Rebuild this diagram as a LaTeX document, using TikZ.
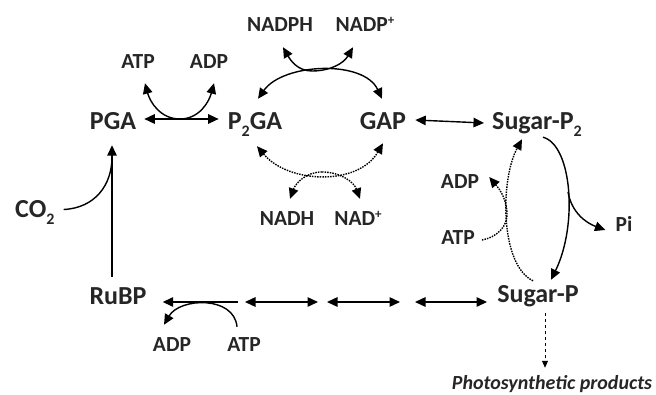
\documentclass[tikz,border=0pt]{standalone}
\usepackage{fontspec}
\setmainfont{Carlito}
\usetikzlibrary{arrows.meta,calc}
\newcommand\mysubtwo{\raisebox{-6.5pt}{\fontsize{16}{16}\selectfont 2}}
\newcommand\myplus{\raisebox{7pt}{\fontsize{13}{13}\selectfont +}}
\begin{document}
\begin{tikzpicture}[x=1pt,y=-1pt,
  big/.style={font=\fontsize{26}{26}\selectfont\bfseries, inner sep=0pt, anchor=base, text=black!85, text height=17pt, text depth=0pt},
  sm/.style={font=\fontsize{21.5}{21.5}\selectfont\bfseries, inner sep=0pt, anchor=base, text=black!85, text height=14pt, text depth=0pt},
  con/.style={line width=1.4pt, black},
  arr/.style={con, -{Triangle[length=10.5pt,width=9.5pt]}},
  darr/.style={con, {Triangle[length=10.5pt,width=9.5pt]}-{Triangle[length=10.5pt,width=9.5pt]}},
  dots/.style={dash pattern=on 1.5pt off 1.1pt},
]
\useasboundingbox (0,0) rectangle (656,395);
% main metabolites
\node[big] (pga) at (113,130) {PGA};
\node[big] (p2ga) at (255,130) {P\mysubtwo GA};
\node[big] (gap) at (383,130) {GAP};
\node[big] (sp2) at (537,130) {Sugar-P\mysubtwo};
\node[big] (sp) at (538,303) {Sugar-P};
\node[big] (rubp) at (118,305) {RuBP};
\node[big, anchor=base west] (co2) at (15,218) {CO\mysubtwo};
% cofactors
\node[sm] (atp1) at (138,69) {ATP};
\node[sm] (adp1) at (209,69) {ADP};
\node[sm] (nadph) at (280,32) {NADPH};
\node[sm] (nadp) at (365,32) {NADP\myplus};
\node[sm] (nadh) at (287,226) {NADH};
\node[sm] (nad) at (358,226) {NAD\myplus};
\node[sm] (adp2) at (460,189) {ADP};
\node[sm] (atp2) at (458,245) {ATP};
\node[sm] (pi) at (624,232) {Pi};
\node[sm] (adp3) at (172,352) {ADP};
\node[sm] (atp3) at (244,352) {ATP};
\node[font=\fontsize{20}{20}\selectfont\bfseries\itshape, inner sep=0pt, anchor=base, text=black!85] (prod) at (552,389) {Photosynthetic products};
% junction points
\coordinate (j1) at (180,119);
\coordinate (j2) at (312,71);
\coordinate (j3) at (322,172);
\coordinate (j4) at (568,192);
\coordinate (j5) at (507,212);
\coordinate (b1) at (238,302);
\coordinate (b2) at (245,302);
\coordinate (b3) at (318,302);
\coordinate (b4) at (327,302);
\coordinate (b5) at (400,302);
\coordinate (b6) at (415,302);
% PGA <-> P2GA with ATP/ADP
\draw[darr] ($(pga.east)+(8,-2.5)$) -- ($(p2ga.west)+(-9,-2.5)$);
\draw[arr] (j1) to[out=180,in=-75] ($(atp1.south)+(7,14)$);
\draw[arr] (j1) to[out=0,in=-105] ($(adp1.south)+(5,14)$);
% P2GA <-> GAP (NADPH)
\draw[darr] ($(p2ga.north)+(3,-14)$) to[out=55,in=115,looseness=0.9] ($(gap.north)+(-1,-14)$);
\draw[arr] (j2) to[out=180,in=-60] ($(nadph.south)+(3,15)$);
\draw[arr] (j2) to[out=0,in=-120] ($(nadp.south)+(-12,15)$);
% dotted NADH route
\draw[darr, dots] ($(p2ga.south)+(2,16)$) to[out=-50,in=-120] ($(gap.south)+(0,13)$);
\draw[arr, dots] (j3) to[out=180,in=70] ($(nadh.north)+(3,-13)$);
\draw[arr, dots] (j3) to[out=0,in=110] ($(nad.north)+(2,-13)$);
% GAP <-> Sugar-P2
\draw[darr] ($(gap.east)+(9,-1.5)$) -- ($(sp2.west)+(-8,1.5)$);
% Sugar-P2 -> Sugar-P with Pi
\draw[arr] ($(sp2.south)+(6,7)$) .. controls (572,145) and (578,225) .. ($(sp.north)+(13,-6)$);
\draw[arr] (j4) to[out=-80,in=160] ($(pi.west)+(-10,5)$);
% dotted Sugar-P -> Sugar-P2 with ATP/ADP
\draw[arr, dots] ($(sp.north)+(-5,-5)$) .. controls (500,265) and (500,180) .. ($(sp2.south)+(-15,9)$);
\draw[con, dots] ($(atp2.east)+(7,2)$) to[out=10,in=-85] (j5);
\draw[arr, dots] (j5) to[out=95,in=-50] ($(adp2.east)+(10,-5)$);
% CO2 -> PGA
\draw[arr] ($(rubp.north)+(-6,-11)$) -- ($(pga.south)+(-1,15)$);
\draw[con] ($(co2.east)+(9,0)$) .. controls (95,208) and (112,185) .. (112,157);
% bottom chain
\draw[arr] (b1) -- ($(rubp.east)+(16,5.5)$);
\draw[darr] (b2) -- (b3);
\draw[darr] (b4) -- (b5);
\draw[darr] (b6) -- ($(sp.west)+(-10,7.5)$);
\draw[arr] ($(atp3.north)+(-7,-11)$) to[out=95,in=60,looseness=1.1] ($(adp3.north)+(-8,-13)$);
% products
\draw[line width=1pt, dashed, -{Triangle[length=7pt,width=6pt]}] ($(sp.south)+(7,10)$) -- ($(prod.north)+(-7,-7)$);
\end{tikzpicture}
\end{document}
